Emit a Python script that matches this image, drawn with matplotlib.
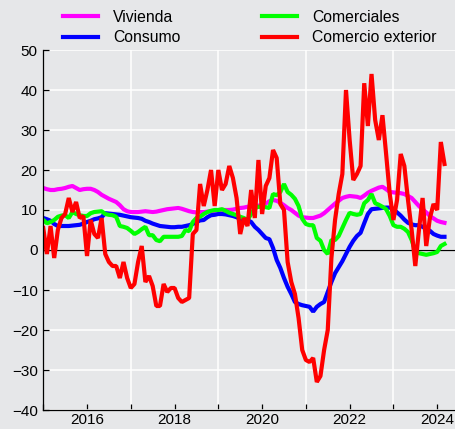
"""
Spanish credit growth by segment, monthly 2015-2024.
"""
import matplotlib
matplotlib.use('Agg')
import matplotlib.pyplot as plt
from matplotlib.ticker import MultipleLocator
import numpy as np

# monthly values, Jan 2015 .. Mar 2024
vivienda = [15.5, 15.2, 15.0, 15.0, 15.2, 15.3, 15.5, 15.8, 16.0, 15.5, 15.0, 15.2,
            15.3, 15.3, 15.0, 14.5, 13.8, 13.3, 12.8, 12.4, 12.0, 11.2, 10.2, 9.7,
            9.5, 9.5, 9.5, 9.6, 9.7, 9.6, 9.5, 9.6, 9.8, 10.0, 10.2, 10.3,
            10.4, 10.5, 10.3, 10.0, 9.7, 9.5, 9.4, 9.5, 9.5, 9.6, 9.7, 9.8,
            10.0, 10.0, 10.0, 10.0, 10.1, 10.3, 10.5, 10.6, 10.8, 10.9, 11.0, 11.1,
            11.2, 11.6, 12.2, 12.5, 12.3, 11.8, 11.2, 10.5, 10.0, 9.3, 8.6, 8.2,
            8.1, 8.0, 8.0, 8.3, 8.6, 9.2, 10.0, 10.8, 11.6, 12.3, 13.0, 13.3,
            13.5, 13.4, 13.3, 13.0, 13.6, 14.3, 14.8, 15.2, 15.6, 15.8, 15.2, 14.5,
            14.4, 14.3, 14.2, 14.0, 13.5, 13.0, 12.0, 11.0, 10.2, 9.4, 8.5, 7.9,
            7.3, 7.0, 6.8]

consumo = [8.0, 7.7, 7.3, 6.5, 6.0, 6.0, 6.0, 6.0, 6.1, 6.2, 6.3, 6.6,
           7.0, 7.3, 7.7, 7.9, 8.2, 9.2, 9.1, 9.0, 8.9, 8.8, 8.6, 8.4,
           8.2, 8.1, 8.0, 7.8, 7.3, 7.0, 6.6, 6.3, 6.0, 5.9, 5.8, 5.7,
           5.7, 5.8, 5.8, 6.0, 6.2, 6.5, 7.0, 7.4, 7.5, 8.2, 8.7, 8.8,
           9.0, 9.0, 8.9, 8.7, 8.5, 8.2, 7.8, 7.5, 7.5, 7.0, 5.8, 5.0,
           4.0, 3.0, 2.7, 0.5, -2.5, -4.5, -7.0, -9.2, -11.0, -13.0, -13.5, -13.8,
           -14.0, -14.2, -15.4, -14.2, -13.5, -13.0, -10.5, -8.0, -5.8, -4.3, -2.8, -1.0,
           0.8, 2.3, 3.5, 4.3, 6.7, 9.0, 10.2, 10.3, 10.4, 10.5, 10.6, 10.6,
           10.2, 9.4, 8.6, 7.6, 6.8, 6.4, 6.2, 6.2, 5.8, 5.3, 4.8, 4.0,
           3.6, 3.3, 3.3]

comerciales = [7.5, 6.7, 7.0, 7.5, 8.3, 8.6, 8.7, 8.0, 9.5, 9.0, 8.7, 8.5,
               8.5, 9.2, 9.5, 9.6, 9.7, 9.0, 8.8, 8.7, 8.3, 6.0, 5.8, 5.5,
               4.8, 4.0, 4.5, 5.2, 5.8, 3.7, 3.7, 2.5, 2.2, 3.3, 3.3, 3.3,
               3.3, 3.3, 3.5, 5.0, 4.7, 7.0, 8.0, 8.3, 9.0, 9.5, 9.8, 10.0,
               10.0, 10.2, 9.8, 9.3, 9.0, 8.7, 8.3, 8.0, 7.5, 9.0, 10.5, 10.8,
               10.8, 10.7, 10.5, 14.0, 13.7, 14.5, 16.5, 14.5, 13.8, 12.8, 11.0, 7.8,
               6.5, 6.2, 6.2, 3.0, 2.3, 0.0, -1.0, 2.5, 2.5, 3.5, 5.5, 7.5,
               9.3, 9.0, 8.8, 9.0, 11.7, 12.5, 14.0, 11.7, 11.3, 10.8, 10.2, 8.5,
               6.2, 5.8, 5.8, 5.3, 4.5, 2.5, -0.3, -0.8, -1.0, -1.2, -1.0, -0.8,
               -0.5, 1.0, 1.5]

comercio_ext = [5.5, -1.0, 6.0, -2.0, 5.0, 8.0, 9.0, 13.0, 9.5, 12.0, 8.0, 8.5,
                -1.5, 7.5, 4.0, 3.0, 8.0, -1.0, -3.0, -4.0, -4.0, -7.0, -3.0, -7.0,
                -9.5, -8.5, -3.0, 1.0, -8.0, -6.5, -9.0, -14.0, -14.0, -8.5, -10.5, -9.5,
                -9.5, -12.0, -13.0, -12.5, -12.0, 4.0, 5.0, 16.5, 11.0, 15.0, 20.0, 11.0,
                20.0, 15.0, 16.5, 21.0, 18.0, 13.0, 4.0, 8.0, 6.0, 15.0, 8.0, 22.5,
                9.0, 16.0, 18.0, 25.0, 23.0, 11.5, 10.0, -3.0, -8.0, -11.0, -17.0, -25.0,
                -27.5, -28.0, -27.0, -33.0, -31.5, -25.0, -20.0, -2.0, 7.5, 14.0, 19.0, 40.0,
                27.5, 17.5, 19.0, 21.0, 41.7, 31.0, 44.0, 32.5, 27.5, 33.7, 24.0, 14.0,
                7.5, 12.5, 24.0, 21.0, 12.5, 5.0, -4.0, 5.0, 13.0, 1.0, 8.0, 11.5,
                10.0, 27.0, 21.5]

labels = ['Vivienda', 'Consumo', 'Comerciales', 'Comercio exterior']
colors = ['#ff00ff', '#0000ff', '#00ff00', '#ff0000']

t = 2015 + np.arange(len(vivienda)) / 12.0

BG = '#e6e7e9'
plt.rcParams['font.family'] = ['Liberation Sans', 'DejaVu Sans']

fig = plt.figure(figsize=(4.56, 4.29), dpi=100, facecolor=BG)
ax = fig.add_axes([43.25 / 456, 1 - 410 / 429, 1 - 43.25 / 456, 360 / 429])
ax.set_facecolor(BG)

for ys, lab, c in zip([vivienda, consumo, comerciales, comercio_ext], labels, colors):
    ax.plot(t, ys, color=c, lw=3.0, label=lab, solid_joinstyle='bevel')

ax.axhline(0, color='black', lw=0.9, zorder=1.5)

ax.set_xlim(2015, 2024.43)
ax.set_ylim(-40, 50)
ax.xaxis.set_major_locator(MultipleLocator(2))
ax.xaxis.set_minor_locator(MultipleLocator(2, offset=1))
ax.yaxis.set_major_locator(MultipleLocator(10))

ax.grid(False)
ax.xaxis.grid(True, which='minor', color='white', lw=1.1)
ax.yaxis.grid(True, which='major', color='white', lw=1.1)
ax.set_axisbelow(True)

for s in ('top', 'right'):
    ax.spines[s].set_visible(False)
for s in ('left', 'bottom'):
    ax.spines[s].set_color('black')
    ax.spines[s].set_linewidth(0.9)

ax.tick_params(which='both', direction='in', length=4, width=0.9, labelsize=11, colors='black')
ax.tick_params(axis='x', pad=2)
ax.tick_params(axis='y', pad=4)

fig.legend(loc='center left', bbox_to_anchor=(63 / 456, 1 - 27.5 / 429), ncol=2, frameon=False,
           fontsize=11.3, handlelength=2.2, handletextpad=1.0, columnspacing=5.2,
           labelspacing=0.38, borderpad=0, borderaxespad=0)

plt.savefig('out.png', dpi=100, facecolor=BG)
